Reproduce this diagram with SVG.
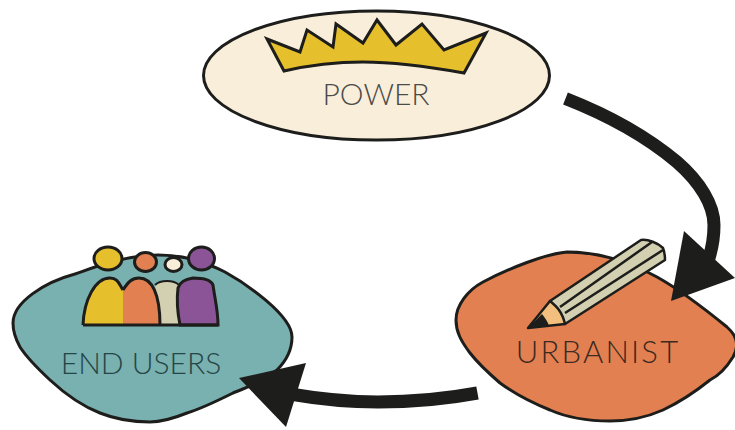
<svg xmlns="http://www.w3.org/2000/svg" width="735" height="430" viewBox="0 0 735 430">
<style>
.o{stroke:#1d1d1b;stroke-width:3;stroke-linejoin:miter}
.p{stroke:#1d1d1b;stroke-width:2.500;stroke-linejoin:round}
.t{font-family:Lato,"Open Sans",sans-serif;font-weight:300;font-size:30px;text-anchor:middle}
.c{fill:none;stroke:#1d1d1b;stroke-width:13}
.h{fill:#1d1d1b}
</style>
<rect width="735" height="430" fill="#fff"/>
<g id="power">
<ellipse class="o" cx="376.500" cy="75.500" rx="173" ry="64.500" fill="#f9eeda"/>
<path class="o" fill="#e6bf2c" d="M267,39L300,52L307,30L333,47L336,24L363,43L377,20L396,45L422,24L444,50L486,33L464,73C425,66 392,62 363,62C335,62 310,65 284,71Z"/>
<text class="t" x="376" y="105" fill="#4a4a48">POWER</text>
</g>
<g id="end-users">
<path class="o" fill="#79b0b0" d="M13,323C13,302 45,282 75,274C95,267 125,255 158,255C185,255 205,262 225,272C245,283 292,315 292,337C292,352 285,362 277,370C262,382 248,387 233,393C215,402 200,409 187,413C172,419 162,422 150,422C132,422 115,419 100,413C82,406 64,393 50,380C35,366 27,358 20,347C15,338 13,331 13,323Z"/>
<ellipse class="o" cx="108" cy="258.500" rx="14" ry="11.500" fill="#e6bf2c"/>
<ellipse class="o" cx="145.500" cy="262" rx="11" ry="9.500" fill="#e38051"/>
<ellipse class="o" cx="173.500" cy="264.500" rx="8.500" ry="7" fill="#f9eeda"/>
<ellipse class="o" cx="201.500" cy="258.500" rx="13" ry="11.500" fill="#8a5497"/>
<path fill="#d3cfb1" d="M155,285C158,282 162,281 167,281C172,281 176,282 179,285L181,325H160Z"/>
<path fill="none" stroke="#1d1d1b" stroke-width="2" d="M155,285C158,282 162,281 167,281C172,281 176,282 179,285"/>
<path fill="#e6bf2c" d="M83,325C84,300 95,278 110,278C118,278 119,284 123,290V325Z"/>
<path fill="none" class="o" d="M83,325C84,300 95,278 110,278C118,278 119,284 123,290"/>
<path fill="#e38051" d="M123,290C128,282 132,278 139,278C152,278 160,294 160,325H123Z"/>
<path fill="none" class="o" d="M123,290C128,282 132,278 139,278C152,278 160,294 160,325"/>
<path class="o" fill="#8a5497" d="M180,325C177,310 177,296 178,288C180,281 186,279 193,278C202,278 211,280 213,285C215,300 218,310 218,325Z"/>
<path fill="none" class="o" d="M83,325H218"/>
<text class="t" x="141" y="374" fill="#254646">END USERS</text>
</g>
<g id="urbanist">
<path class="o" fill="#e38051" d="M456,320C456,305 468,290 483,282C510,268 545,254 567,252C600,252 630,262 657,277C675,287 700,305 727,327C736,335 740,345 733,357C725,370 718,376 710,380C695,392 680,402 663,410C645,418 628,421 610,421C585,421 568,418 550,410C530,402 515,394 500,383C485,370 477,362 470,353C461,341 456,332 456,320Z"/>
<path class="p" fill="#d3cfb1" d="M550,301L641,240C648,239 658,243 663,248C665,253 665,257 665,260L565,324Z"/>
<path class="p" fill="none" d="M560,307L652,242M565,313L663,250"/>
<path class="p" fill="#f2bf7e" d="M550,301C556,306 562,311 565,324L528,328Z"/>
<path fill="#1d1d1b" d="M528,328L542,314C545,318 548,322 549,326Z"/>
<text class="t" x="598" y="363" fill="#3c2a20" style="font-size:31px;letter-spacing:2.200px">URBANIST</text>
</g>
<g id="connectors">
<path class="c" d="M565.500,98.500C600,112 640,131 677,162C700,182 714,205 714,225C714,235 713,245 709,258"/>
<path class="h" d="M684,231L735,278L671,301Z"/>
<path class="c" d="M477.500,393C440,400 410,402 378,402C350,402 325,400 290,394"/>
<path class="h" d="M239,378L306,363L286,427Z"/>
</g>
</svg>
